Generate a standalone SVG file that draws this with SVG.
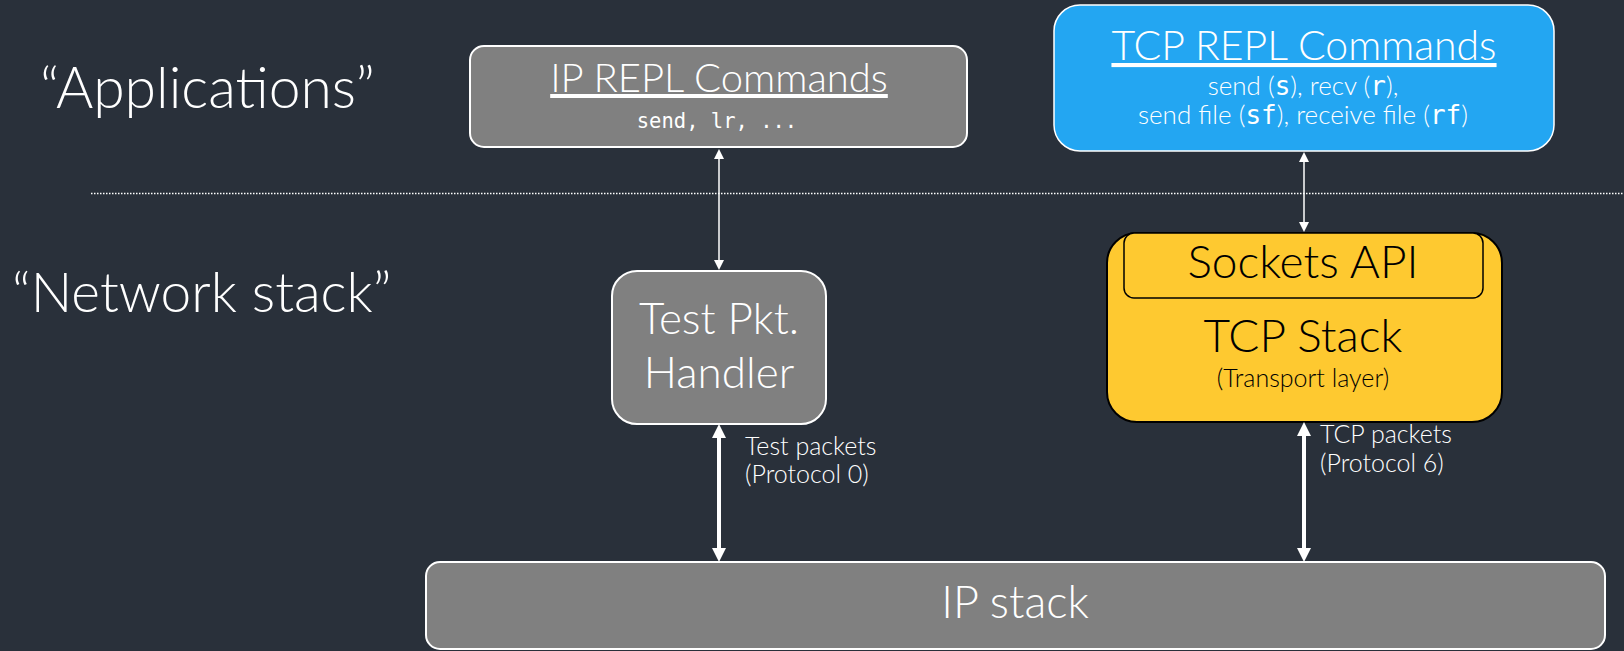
<svg xmlns="http://www.w3.org/2000/svg" width="1624" height="651" viewBox="0 0 1624 651">
<defs>
<style>
.t{font-family:Lato,"Liberation Sans",sans-serif;font-weight:300;fill:#ffffff}
.k{font-family:Lato,"Liberation Sans",sans-serif;font-weight:300;fill:#000000}
.m{font-family:"DejaVu Sans Mono","Liberation Mono",monospace}
.gbox{fill:#808080;stroke:#ffffff;stroke-width:2}
.conn{stroke:#ffffff;fill:none}
</style>
<marker id="ah" viewBox="0 0 10 10" refX="0" refY="5" markerUnits="userSpaceOnUse" markerWidth="10" markerHeight="12" orient="auto-start-reverse"><path d="M0,0 L10,5 L0,10 z" fill="#ffffff"/></marker>
<marker id="ahb" viewBox="0 0 10 10" refX="0" refY="5" markerUnits="userSpaceOnUse" markerWidth="14" markerHeight="14" orient="auto-start-reverse"><path d="M0,0 L10,5 L0,10 z" fill="#ffffff"/></marker>
</defs>
<rect width="1624" height="651" fill="#29303a"/>
<line x1="91" y1="193.5" x2="1624" y2="193.5" stroke="#ffffff" stroke-width="1.5" stroke-dasharray="1.5 1.5"/>
<g id="label-applications"><text class="t" x="40" y="108" font-size="57">“Applications”</text></g>
<g id="label-network"><text class="t" x="12" y="312" font-size="55">“Network stack”</text></g>
<g id="ip-repl">
<rect class="gbox" x="470" y="46" width="497" height="101" rx="14"/>
<text class="t" x="719" y="92" font-size="40" text-anchor="middle" text-decoration="underline">IP REPL Commands</text>
<text class="m" x="717" y="128" font-size="20.5" fill="#ffffff" text-anchor="middle">send, lr, ...</text>
</g>
<g id="tcp-repl">
<rect x="1054" y="5" width="500" height="146" rx="26" fill="#23a6f2" stroke="#ffffff" stroke-width="1.5"/>
<text class="t" x="1304" y="60" font-size="41" text-anchor="middle" text-decoration="underline">TCP REPL Commands</text>
<text class="t" x="1303" y="95" font-size="26" text-anchor="middle">send (<tspan class="m">s</tspan>), recv (<tspan class="m">r</tspan>),</text>
<text class="t" x="1303" y="124" font-size="26" text-anchor="middle">send file (<tspan class="m">sf</tspan>), receive file (<tspan class="m">rf</tspan>)</text>
</g>
<g id="test-handler">
<rect class="gbox" x="612" y="271" width="214" height="153" rx="25"/>
<text class="t" x="719" y="334" font-size="44" text-anchor="middle">Test Pkt.</text>
<text class="t" x="719" y="388" font-size="44" text-anchor="middle">Handler</text>
</g>
<g id="tcp-stack">
<rect x="1107" y="233" width="395" height="189" rx="30" fill="#fec930" stroke="#000000" stroke-width="2"/>
<rect x="1124" y="233" width="359" height="65" rx="10" fill="#fec930" stroke="#000000" stroke-width="1.5"/>
<text class="k" x="1303" y="278" font-size="46" text-anchor="middle">Sockets API</text>
<text class="k" x="1303" y="352" font-size="46" text-anchor="middle">TCP Stack</text>
<text class="k" x="1303" y="387" font-size="25" text-anchor="middle">(Transport layer)</text>
</g>
<g id="ip-stack">
<rect class="gbox" x="426" y="562" width="1179" height="87" rx="14"/>
<text class="t" x="1015" y="618" font-size="45" text-anchor="middle">IP stack</text>
</g>
<g id="connectors">
<line class="conn" x1="719" y1="159" x2="719" y2="260" stroke-width="1.5" marker-start="url(#ah)" marker-end="url(#ah)"/>
<line class="conn" x1="1304" y1="162" x2="1304" y2="222" stroke-width="1.5" marker-start="url(#ah)" marker-end="url(#ah)"/>
<line class="conn" x1="719" y1="438" x2="719" y2="548" stroke-width="4" marker-start="url(#ahb)" marker-end="url(#ahb)"/>
<line class="conn" x1="1304" y1="436" x2="1304" y2="548" stroke-width="4" marker-start="url(#ahb)" marker-end="url(#ahb)"/>
<text class="t" x="745" y="455" font-size="25">Test packets</text>
<text class="t" x="745" y="483" font-size="25">(Protocol 0)</text>
<text class="t" x="1320" y="443" font-size="25">TCP packets</text>
<text class="t" x="1320" y="472" font-size="25">(Protocol 6)</text>
</g>
</svg>
